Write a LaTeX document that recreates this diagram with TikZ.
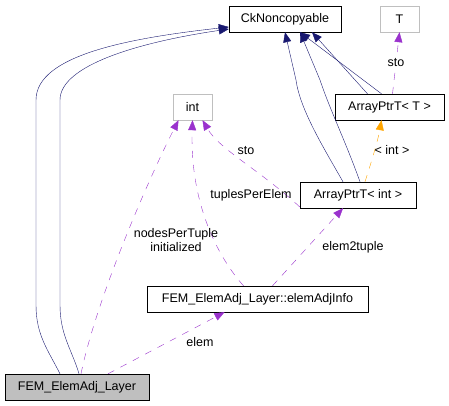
\documentclass[tikz,border=0pt]{standalone}
\usepackage{fontspec}
\setmainfont{Liberation Sans}
\usetikzlibrary{arrows.meta}
\definecolor{inhcol}{RGB}{25,25,112}
\definecolor{usecol}{RGB}{154,50,205}
\definecolor{tplcol}{RGB}{255,165,0}
\definecolor{boxgray}{RGB}{191,191,191}
\tikzset{
	cls/.style = {draw, rectangle, minimum height=26bp, inner sep=0pt, font=\fontsize{12.5bp}{14bp}\selectfont},
	ext/.style = {cls, draw=boxgray},
	cur/.style = {cls, fill=boxgray},
	inh/.style = {draw=inhcol, -{Triangle[length=10bp,width=8bp]}, inhcol},
	use/.style = {draw=usecol, dash pattern=on 7bp off 7bp, -{Triangle[length=10bp,width=8bp]}, usecol},
	tpl/.style = {draw=tplcol, dash pattern=on 7bp off 7bp, -{Triangle[length=10bp,width=8bp]}, tplcol},
	lbl/.style = {font=\fontsize{12.5bp}{14bp}\selectfont, text=black, align=center, inner sep=1pt}
}
\begin{document}
\begin{tikzpicture}[x=1bp, y=-1bp]
	\useasboundingbox (0,0) rectangle (449,405);
	% classes
	\node [cls, minimum width=112bp] (ckn) at (285,19) {CkNoncopyable};
	\node [ext, minimum width=39bp] (tT) at (399.5,19) {T};
	\node [ext, minimum width=39bp] (int) at (192.5,107) {int};
	\node [cls, minimum width=109bp] (aptT) at (389.5,107) {ArrayPtrT< T >};
	\node [cls, minimum width=116bp] (aptI) at (358,195) {ArrayPtrT< int >};
	\node [cls, minimum width=221bp] (info) at (257.5,299) {FEM\_ElemAdj\_Layer::elemAdjInfo};
	\node [cur, minimum width=144bp] (layer) at (77,387) {FEM\_ElemAdj\_Layer};
	% inheritance
	\draw [inh] ([xshift=-17bp]layer.north) .. controls (48,350) and (36,335) .. (36,305) -- (36,100)
		.. controls (36,55) and (130,38) .. ([yshift=-8bp]ckn.west);
	\draw [inh] ([xshift=2bp]layer.north) .. controls (72,350) and (60,335) .. (60,305) -- (60,100)
		.. controls (60,65) and (140,42) .. ([yshift=-10bp]ckn.west);
	\draw [inh] ([xshift=-15bp]aptI.north) .. controls (325,150) and (300,110) .. (296,80) -- ([xshift=0bp]ckn.south);
	\draw [inh] ([xshift=2bp]aptI.north) .. controls (345,140) and (330,110) .. (320,80) -- ([xshift=15bp]ckn.south);
	\draw [inh] ([xshift=-22bp]aptT.north) -- ([xshift=27bp]ckn.south);
	\draw [inh] ([xshift=-8bp]aptT.north) -- ([xshift=15bp]ckn.south);
	% members and templates
	\draw [use] ([xshift=3bp]aptT.north) -- (tT.south) node [lbl, pos=0.5, fill=white] {sto};
	\draw [tpl] ([xshift=7bp]aptI.north) .. controls (372,160) and (378,140) .. ([xshift=-8bp]aptT.south);
	\node [lbl] (lint) at (392,150) {< int >};
	\draw [use] ([yshift=-12bp]aptI.west) .. controls (260,170) and (220,150) .. ([xshift=10bp]int.south);
	\node [lbl] (lsto) at (246,151) {sto};
	\draw [use] ([xshift=-14bp]info.north) .. controls (212,250) and (190,195) .. (int.south);
	\node [lbl] (ltup) at (251,195) {tuplesPerElem};
	\draw [use] ([xshift=4bp]layer.north) .. controls (96,300) and (148,180) .. ([xshift=-14bp]int.south);
	\node [lbl] (lnod) at (176,240) {nodesPerTuple\\initialized};
	\draw [use] ([xshift=15bp]info.north) -- ([xshift=-15bp]aptI.south);
	\node [lbl] (lel2) at (353,247) {elem2tuple};
	\draw [use] ([xshift=31bp]layer.north) -- ([xshift=-33bp]info.south);
	\node [lbl] (lelm) at (200,342) {elem};
\end{tikzpicture}
\end{document}
